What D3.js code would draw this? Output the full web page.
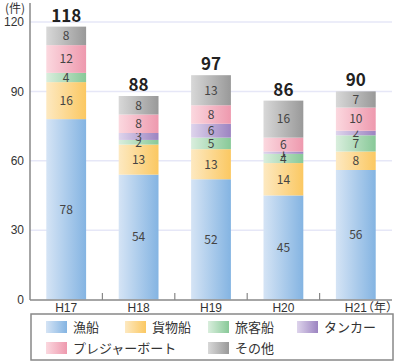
<!DOCTYPE html>
<html>
<head>
<meta charset="utf-8">
<script src="https://cdn.jsdelivr.net/npm/d3@7"></script>
<style>
  body { margin: 0; background: #fff; }
  svg { display: block; font-family: "Noto Sans CJK JP", "Noto Sans", sans-serif; }
</style>
</head>
<body>
<div id="chart"></div>
<script>
// data
var years = ["H17", "H18", "H19", "H20", "H21"];
var seriesNames = ["漁船", "貨物船", "旅客船", "タンカー", "プレジャーボート", "その他"];
var gyosen   = [78, 54, 52, 45, 56];
var kamotsu  = [16, 13, 13, 14, 8];
var ryokaku  = [4, 2, 5, 4, 7];
var tanker   = [0, 3, 6, 1, 2];
var pleasure = [12, 8, 8, 6, 10];
var sonota   = [8, 8, 13, 16, 7];
var yTicks = [0, 30, 60, 90, 120];

// gradient colours, left -> right
var gradColors = [
    ["#d5e4f5", "#84b4e2"],
    ["#fde9c1", "#fbc862"],
    ["#d9eedd", "#88c998"],
    ["#ded4ec", "#9c84c1"],
    ["#fbd8df", "#ee99ae"],
    ["#d8d8d8", "#999999"]
];

var width = 400, height = 364;

var svg = d3.select("#chart").append("svg")
    .attr("width", width)
    .attr("height", height);

var defs = svg.append("defs");
gradColors.forEach(function(c, i) {
    var g = defs.append("linearGradient")
        .attr("id", "grad" + i)
        .attr("x1", 0).attr("x2", 1).attr("y1", 0).attr("y2", 0);
    g.append("stop").attr("offset", "0%").attr("stop-color", c[0]);
    g.append("stop").attr("offset", "100%").attr("stop-color", c[1]);
});

var x = d3.scaleBand()
    .domain(years)
    .range([30, 392])
    .paddingInner(0.45)
    .paddingOuter(0.225);

var y = d3.scaleLinear()
    .domain([0, 120])
    .range([299.5, 22]);

// gridlines
svg.append("g")
    .selectAll("line")
    .data(yTicks.slice(1))
    .enter().append("line")
    .attr("x1", 30).attr("x2", 392)
    .attr("y1", function(d) { return y(d); })
    .attr("y2", function(d) { return y(d); })
    .attr("stroke", "#e6e7f7")
    .attr("stroke-width", 1.5);

// build table for stacking
var table = years.map(function(yr, i) {
    return { year: yr, s0: gyosen[i], s1: kamotsu[i], s2: ryokaku[i], s3: tanker[i], s4: pleasure[i], s5: sonota[i] };
});
var keys = ["s0", "s1", "s2", "s3", "s4", "s5"];
var stacked = d3.stack().keys(keys)(table);

var layers = svg.append("g").selectAll("g")
    .data(stacked)
    .enter().append("g")
    .attr("fill", function(d, i) { return "url(#grad" + i + ")"; });

layers.selectAll("rect")
    .data(function(d) { return d; })
    .enter().append("rect")
    .attr("x", function(d) { return x(d.data.year); })
    .attr("width", x.bandwidth())
    .attr("y", function(d) { return y(d[1]); })
    .attr("height", function(d) { return y(d[0]) - y(d[1]); });

// segment labels (small ones overlap like in the original)
layers.selectAll("text")
    .data(function(d) { return d.filter(function(v) { return v[1] - v[0] > 0; }); })
    .enter().append("text")
    .attr("x", function(d) { return x(d.data.year) + x.bandwidth() / 2; })
    .attr("y", function(d) { return y((d[0] + d[1]) / 2); })
    .attr("dy", "0.36em")
    .attr("text-anchor", "middle")
    .attr("font-size", 12)
    .attr("fill", "#444")
    .text(function(d) { return d[1] - d[0]; });

// totals
svg.append("g").selectAll("text")
    .data(table)
    .enter().append("text")
    .attr("x", function(d) { return x(d.year) + x.bandwidth() / 2; })
    .attr("y", function(d) { return y(d.s0 + d.s1 + d.s2 + d.s3 + d.s4 + d.s5) - 5; })
    .attr("text-anchor", "middle")
    .attr("font-size", 17)
    .attr("font-weight", "bold")
    .attr("fill", "#222")
    .text(function(d) { return d.s0 + d.s1 + d.s2 + d.s3 + d.s4 + d.s5; });

// y axis
var yAxis = svg.append("g")
    .attr("transform", "translate(30,0)")
    .call(d3.axisLeft(y).tickValues(yTicks).tickSize(0).tickPadding(6));
yAxis.select(".domain").remove();
yAxis.selectAll("text").attr("font-size", 12).attr("fill", "#333").attr("font-family", null);
svg.append("line")
    .attr("x1", 30).attr("x2", 30).attr("y1", 3).attr("y2", 300)
    .attr("stroke", "#888").attr("stroke-width", 1.5);

// x axis
var xAxis = svg.append("g")
    .attr("transform", "translate(0,300)")
    .call(d3.axisBottom(x).tickSize(0).tickPadding(3));
xAxis.select(".domain").remove();
xAxis.selectAll("text").attr("font-size", 12).attr("fill", "#333").attr("font-family", null);
svg.append("line")
    .attr("x1", 30).attr("x2", 392).attr("y1", 300).attr("y2", 300)
    .attr("stroke", "#888").attr("stroke-width", 1.5);

// ticks between categories, pointing up
svg.append("g").selectAll("line")
    .data(years.slice(1))
    .enter().append("line")
    .attr("x1", function(d) { return x(d) - x.step() * x.paddingInner() / 2; })
    .attr("x2", function(d) { return x(d) - x.step() * x.paddingInner() / 2; })
    .attr("y1", 300).attr("y2", 293)
    .attr("stroke", "#888").attr("stroke-width", 1.2);

// unit labels
svg.append("text")
    .attr("x", 5).attr("y", 13)
    .attr("font-size", 12).attr("fill", "#333")
    .text("(件)");
svg.append("text")
    .attr("x", 362).attr("y", 312)
    .attr("font-size", 12).attr("fill", "#333")
    .text("（年）");

// legend
var legendSlots = [[46, 321], [125, 321], [208, 321], [297, 321], [46, 342], [208, 342]];
svg.append("rect")
    .attr("x", 31).attr("y", 314).attr("width", 362).attr("height", 46)
    .attr("fill", "none").attr("stroke", "#888").attr("stroke-width", 1.5);

var leg = svg.append("g").selectAll("g")
    .data(seriesNames)
    .enter().append("g")
    .attr("transform", function(d, i) { return "translate(" + legendSlots[i][0] + "," + legendSlots[i][1] + ")"; });
leg.append("rect")
    .attr("width", 21).attr("height", 12)
    .attr("fill", function(d, i) { return "url(#grad" + i + ")"; });
leg.append("text")
    .attr("x", 27).attr("y", 6).attr("dy", "0.36em")
    .attr("font-size", 13).attr("fill", "#333")
    .text(function(d) { return d; });
</script>
</body>
</html>
